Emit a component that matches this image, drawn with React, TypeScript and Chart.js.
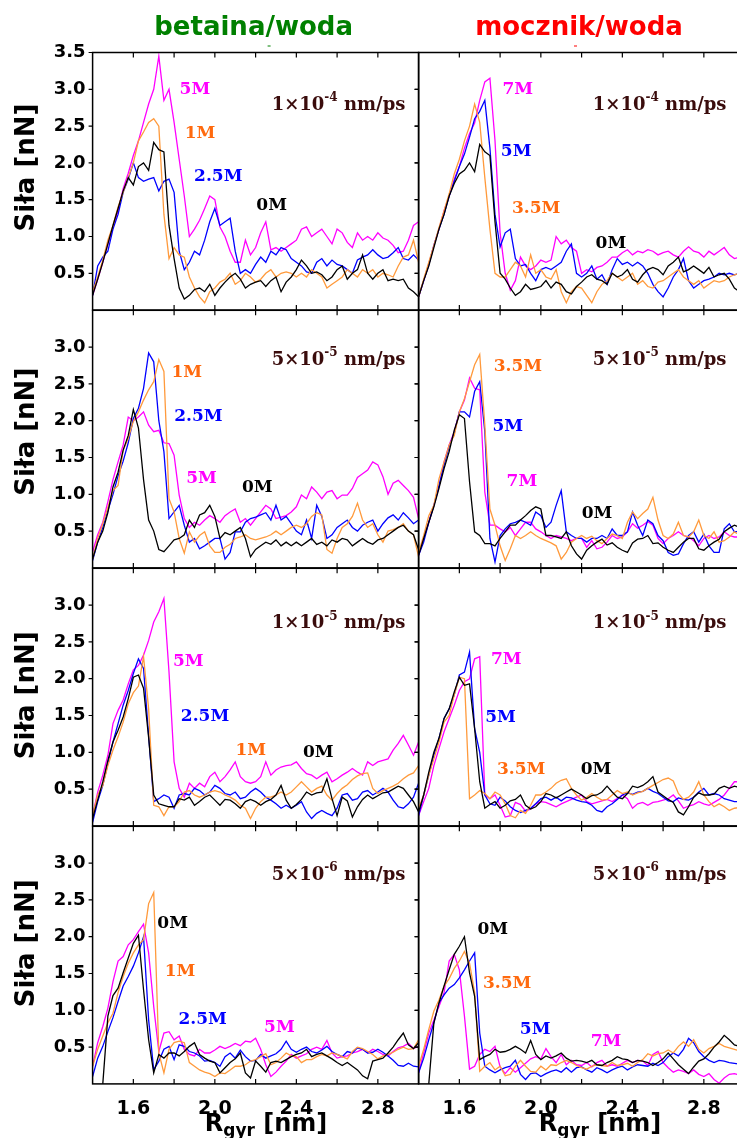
import React, { useEffect, useRef } from "react";
import { Chart, registerables } from "chart.js";

Chart.register(...registerables);

// ---------------- axis / category data ----------------
const R_GYR_START = 1.4;
const R_GYR_STEP = 0.025;
const R_GYR: number[] = Array.from({ length: 65 }, (_, i) => Math.round((R_GYR_START + i * R_GYR_STEP) * 1000) / 1000);
const X_TICK_LABELS = [1.6, 2.0, 2.4, 2.8];
const X_TICK_MARKS = [1.6, 1.8, 2.0, 2.2, 2.4, 2.6, 2.8];
const Y_TICKS_TOP = [0.5, 1.0, 1.5, 2.0, 2.5, 3.0, 3.5];
const Y_TICKS = [0.5, 1.0, 1.5, 2.0, 2.5, 3.0];
const COLUMN_TITLES = ["betaina/woda", "mocznik/woda"];
const SPEED_MANTISSA = ["1×10", "5×10", "1×10", "5×10"];
const SPEED_EXPONENT = ["-4", "-5", "-5", "-6"];
const SPEED_UNIT = " nm/ps";
const BETAINE_CONC = ["0M", "1M", "2.5M", "5M"];
const UREA_CONC = ["0M", "3.5M", "5M", "7M"];
const Y_TITLE = "Siła [nN]";
const X_TITLE_MAIN = "R";
const X_TITLE_SUB = "gyr";
const X_TITLE_UNIT = " [nm]";

// ---------------- series: betaina/woda, 1e-4 nm/ps ----------------
const B1_0M = [0.2, 0.42, 0.65, 0.9, 1.15, 1.38, 1.62, 1.8, 1.7, 1.95,
  2.0, 1.9, 2.28, 2.18, 2.15, 1.15, 0.7, 0.3, 0.15, 0.2,
  0.28, 0.3, 0.25, 0.35, 0.2, 0.3, 0.38, 0.45, 0.5, 0.42,
  0.3, 0.35, 0.38, 0.4, 0.32, 0.4, 0.45, 0.25, 0.38, 0.45,
  0.55, 0.68, 0.6, 0.5, 0.52, 0.48, 0.4, 0.45, 0.55, 0.6,
  0.42, 0.5, 0.55, 0.75, 0.5, 0.42, 0.5, 0.55, 0.4, 0.42,
  0.4, 0.42, 0.3, 0.25, 0.18];
const B1_1M = [0.25, 0.45, 0.68, 0.95, 1.15, 1.4, 1.6, 1.8, 2.0, 2.3,
  2.42, 2.55, 2.6, 2.5, 1.3, 0.7, 0.85, 0.75, 0.72, 0.45,
  0.3, 0.18, 0.1, 0.25, 0.3, 0.38, 0.42, 0.5, 0.35, 0.4,
  0.5, 0.45, 0.38, 0.42, 0.5, 0.55, 0.45, 0.5, 0.52, 0.5,
  0.45, 0.5, 0.45, 0.55, 0.5, 0.45, 0.3, 0.35, 0.4, 0.45,
  0.55, 0.5, 0.45, 0.55, 0.5, 0.55, 0.45, 0.5, 0.48, 0.45,
  0.6, 0.72, 0.75, 0.95, 0.65];
const B1_25M = [0.2, 0.6, 0.72, 0.8, 1.1, 1.3, 1.6, 1.78, 2.0, 1.8,
  1.75, 1.78, 1.8, 1.62, 1.75, 1.78, 1.6, 0.8, 0.55, 0.65,
  0.8, 0.75, 0.95, 1.2, 1.38, 1.15, 1.2, 1.25, 0.8, 0.5,
  0.55, 0.5, 0.62, 0.72, 0.65, 0.8, 0.75, 0.85, 0.82, 0.7,
  0.65, 0.6, 0.52, 0.5, 0.65, 0.7, 0.6, 0.68, 0.62, 0.6,
  0.55, 0.5, 0.68, 0.72, 0.75, 0.82, 0.75, 0.7, 0.72, 0.78,
  0.85, 0.7, 0.68, 0.75, 0.68];
const B1_5M = [0.2, 0.42, 0.65, 0.9, 1.12, 1.35, 1.65, 1.86, 2.1, 2.3,
  2.55, 2.8, 3.0, 3.45, 2.85, 3.0, 2.55, 2.05, 1.55, 1.0,
  1.1, 1.22, 1.38, 1.55, 1.5, 1.13, 1.0, 0.8, 0.65, 0.65,
  0.95, 0.75, 0.85, 1.05, 1.2, 0.82, 0.85, 0.8, 0.85, 0.9,
  0.95, 1.1, 1.13, 1.0, 1.05, 1.1, 1.0, 0.9, 1.1, 1.05,
  0.92, 0.85, 1.05, 0.95, 1.0, 0.95, 1.05, 0.98, 0.95, 0.88,
  0.78, 0.8, 0.95, 1.15, 1.2];

// ---------------- series: mocznik/woda, 1e-4 nm/ps ----------------
const U1_0M = [0.18, 0.4, 0.6, 0.85, 1.1, 1.3, 1.55, 1.72, 1.85, 1.9,
  2.0, 1.88, 2.25, 2.15, 2.1, 1.2, 0.5, 0.42, 0.3, 0.2,
  0.25, 0.35, 0.28, 0.3, 0.32, 0.4, 0.3, 0.38, 0.35, 0.25,
  0.22, 0.32, 0.38, 0.45, 0.48, 0.42, 0.4, 0.35, 0.5, 0.45,
  0.48, 0.55, 0.42, 0.38, 0.48, 0.55, 0.58, 0.55, 0.48, 0.6,
  0.65, 0.72, 0.52, 0.55, 0.6, 0.55, 0.5, 0.58, 0.45, 0.48,
  0.5, 0.42, 0.3, 0.25, 0.3];
const U1_35M = [0.18, 0.42, 0.65, 0.88, 1.12, 1.35, 1.58, 1.85, 2.05, 2.3,
  2.5, 2.8, 2.55, 1.8, 1.1, 0.5, 0.45, 0.45, 0.55, 0.65,
  0.6, 0.45, 0.75, 0.5, 0.55, 0.45, 0.42, 0.55, 0.25, 0.1,
  0.25, 0.32, 0.3, 0.2, 0.1, 0.25, 0.35, 0.4, 0.5, 0.45,
  0.4, 0.45, 0.5, 0.35, 0.4, 0.32, 0.3, 0.38, 0.4, 0.45,
  0.5, 0.55, 0.45, 0.4, 0.35, 0.4, 0.3, 0.35, 0.4, 0.38,
  0.4, 0.45, 0.48, 0.5, 0.5];
const U1_5M = [0.18, 0.4, 0.62, 0.88, 1.1, 1.3, 1.55, 1.75, 1.95, 2.12,
  2.35, 2.6, 2.7, 2.85, 2.2, 1.3, 0.86, 1.05, 1.1, 0.7,
  0.6, 0.62, 0.5, 0.4, 0.55, 0.58, 0.55, 0.6, 0.65, 0.8,
  0.9, 0.5, 0.45, 0.5, 0.6, 0.42, 0.48, 0.35, 0.55, 0.7,
  0.62, 0.65, 0.6, 0.65, 0.6, 0.5, 0.35, 0.25, 0.18, 0.3,
  0.45, 0.55, 0.7, 0.4, 0.3, 0.35, 0.4, 0.42, 0.45, 0.5,
  0.48, 0.5, 0.48, 0.5, 0.45];
const U1_7M = [0.18, 0.4, 0.62, 0.88, 1.1, 1.35, 1.55, 1.78, 1.95, 2.2,
  2.4, 2.54, 2.85, 3.1, 3.15, 2.3, 1.05, 0.5, 0.27, 0.4,
  0.72, 0.6, 0.55, 0.6, 0.68, 0.65, 0.68, 1.0, 0.9, 0.95,
  0.85, 0.8, 0.5, 0.55, 0.52, 0.58, 0.6, 0.65, 0.72, 0.72,
  0.78, 0.82, 0.75, 0.8, 0.78, 0.82, 0.8, 0.75, 0.78, 0.8,
  0.75, 0.72, 0.8, 0.86, 0.8, 0.78, 0.72, 0.8, 0.75, 0.8,
  0.85, 0.75, 0.7, 0.72, 0.7];

// ---------------- series: betaina/woda, 5e-5 nm/ps ----------------
const B2_0M = [0.12, 0.35, 0.5, 0.75, 1.1, 1.3, 1.6, 1.8, 2.15, 1.9,
  1.2, 0.65, 0.5, 0.25, 0.22, 0.3, 0.38, 0.4, 0.45, 0.65,
  0.55, 0.72, 0.75, 0.85, 0.7, 0.4, 0.48, 0.45, 0.5, 0.55,
  0.4, 0.15, 0.25, 0.3, 0.35, 0.32, 0.38, 0.3, 0.35, 0.3,
  0.35, 0.3, 0.35, 0.4, 0.32, 0.35, 0.3, 0.38, 0.35, 0.4,
  0.38, 0.3, 0.35, 0.4, 0.35, 0.32, 0.38, 0.4, 0.45, 0.5,
  0.55, 0.58, 0.5, 0.45, 0.25];
const B2_1M = [0.12, 0.4, 0.6, 0.82, 1.05, 1.12, 1.6, 1.76, 1.99, 2.12,
  2.28, 2.42, 2.53, 2.83, 2.67, 0.94, 0.76, 0.4, 0.2, 0.49,
  0.35, 0.44, 0.49, 0.3, 0.21, 0.21, 0.28, 0.32, 0.4, 0.42,
  0.45, 0.4, 0.38, 0.4, 0.42, 0.45, 0.5, 0.45, 0.5, 0.55,
  0.58, 0.55, 0.6, 0.7, 0.75, 0.72, 0.25, 0.2, 0.4, 0.55,
  0.6, 0.7, 0.88, 0.65, 0.55, 0.6, 0.45, 0.35, 0.5, 0.52,
  0.55, 0.6, 0.5, 0.45, 0.15];
const B2_25M = [0.1, 0.35, 0.55, 0.78, 1.0, 1.25, 1.45, 1.7, 2.03, 2.17,
  2.44, 2.92, 2.8, 2.0, 1.58, 0.67, 0.76, 0.85, 0.58, 0.35,
  0.4, 0.26, 0.3, 0.35, 0.4, 0.4, 0.12, 0.21, 0.49, 0.49,
  0.62, 0.67, 0.69, 0.72, 0.75, 0.65, 0.85, 0.65, 0.7, 0.6,
  0.5, 0.45, 0.65, 0.4, 0.85, 0.7, 0.4, 0.45, 0.55, 0.6,
  0.65, 0.55, 0.5, 0.58, 0.62, 0.65, 0.5, 0.6, 0.68, 0.72,
  0.65, 0.75, 0.68, 0.6, 0.65];
const B2_5M = [0.22, 0.45, 0.62, 0.9, 1.2, 1.44, 1.67, 2.05, 2.0, 2.05,
  2.12, 1.94, 1.85, 1.87, 1.7, 1.69, 1.53, 0.99, 0.67, 0.55,
  0.62, 0.58, 0.65, 0.71, 0.67, 0.62, 0.71, 0.76, 0.8, 0.62,
  0.67, 0.58, 0.67, 0.76, 0.85, 0.8, 0.67, 0.69, 0.71, 0.76,
  0.83, 0.99, 0.94, 1.1, 1.03, 0.94, 1.03, 1.05, 0.94, 0.99,
  0.99, 1.08, 1.23, 1.28, 1.33, 1.44, 1.4, 1.24, 1.0, 1.15,
  1.19, 1.12, 1.05, 0.96, 0.67];

// ---------------- series: mocznik/woda, 5e-5 nm/ps ----------------
const U2_0M = [0.17, 0.4, 0.62, 0.83, 1.08, 1.35, 1.58, 1.87, 2.08, 2.03,
  1.17, 0.49, 0.44, 0.33, 0.33, 0.3, 0.4, 0.49, 0.58, 0.58,
  0.65, 0.71, 0.78, 0.83, 0.8, 0.44, 0.44, 0.42, 0.4, 0.49,
  0.3, 0.19, 0.12, 0.24, 0.3, 0.35, 0.39, 0.31, 0.34, 0.28,
  0.24, 0.21, 0.34, 0.39, 0.4, 0.44, 0.33, 0.34, 0.28, 0.24,
  0.21, 0.28, 0.35, 0.4, 0.4, 0.26, 0.24, 0.3, 0.35, 0.39,
  0.49, 0.54, 0.58, 0.55, 0.55];
const U2_35M = [0.21, 0.44, 0.71, 0.85, 1.21, 1.44, 1.67, 1.8, 2.12, 2.3,
  2.53, 2.76, 2.9, 1.94, 0.8, 0.58, 0.3, 0.1, 0.26, 0.44,
  0.4, 0.44, 0.49, 0.44, 0.4, 0.37, 0.34, 0.3, 0.12, 0.21,
  0.35, 0.4, 0.44, 0.4, 0.43, 0.37, 0.33, 0.4, 0.46, 0.44,
  0.4, 0.62, 0.76, 0.67, 0.74, 0.8, 0.96, 0.65, 0.44, 0.4,
  0.46, 0.62, 0.44, 0.42, 0.49, 0.65, 0.44, 0.4, 0.49, 0.35,
  0.37, 0.42, 0.49, 0.45, 0.45];
const U2_5M = [0.17, 0.35, 0.62, 0.85, 1.12, 1.4, 1.65, 1.83, 2.12, 2.12,
  2.05, 2.4, 2.53, 1.85, 0.4, 0.08, 0.44, 0.53, 0.6, 0.62,
  0.65, 0.62, 0.58, 0.76, 0.71, 0.55, 0.62, 0.85, 1.05, 0.49,
  0.44, 0.4, 0.4, 0.35, 0.4, 0.4, 0.44, 0.4, 0.53, 0.44,
  0.44, 0.49, 0.76, 0.58, 0.44, 0.65, 0.6, 0.44, 0.37, 0.21,
  0.17, 0.19, 0.33, 0.44, 0.49, 0.35, 0.46, 0.3, 0.21, 0.21,
  0.53, 0.6, 0.49, 0.5, 0.5];
const U2_7M = [0.17, 0.4, 0.62, 0.85, 1.1, 1.44, 1.67, 1.85, 2.12, 2.28,
  2.58, 2.44, 2.42, 1.03, 0.58, 0.58, 0.53, 0.49, 0.55, 0.44,
  0.53, 0.62, 0.62, 0.53, 0.49, 0.44, 0.4, 0.44, 0.42, 0.4,
  0.37, 0.4, 0.4, 0.28, 0.37, 0.26, 0.28, 0.35, 0.44, 0.4,
  0.42, 0.49, 0.6, 0.54, 0.58, 0.63, 0.58, 0.4, 0.33, 0.4,
  0.44, 0.49, 0.44, 0.42, 0.37, 0.3, 0.4, 0.44, 0.4, 0.42,
  0.49, 0.44, 0.42, 0.42, 0.42];

// ---------------- series: betaina/woda, 1e-5 nm/ps ----------------
const B3_0M = [0.1, 0.35, 0.6, 0.89, 1.14, 1.3, 1.48, 1.73, 2.02, 2.05,
  1.87, 1.2, 0.42, 0.3, 0.28, 0.26, 0.26, 0.37, 0.35, 0.39,
  0.28, 0.33, 0.39, 0.42, 0.35, 0.28, 0.36, 0.35, 0.3, 0.24,
  0.33, 0.36, 0.33, 0.28, 0.33, 0.36, 0.42, 0.55, 0.35, 0.24,
  0.29, 0.36, 0.46, 0.42, 0.45, 0.46, 0.64, 0.37, 0.14, 0.39,
  0.34, 0.12, 0.26, 0.36, 0.42, 0.37, 0.41, 0.45, 0.46, 0.5,
  0.54, 0.51, 0.42, 0.33, 0.19];
const B3_1M = [0.14, 0.42, 0.55, 0.82, 1.03, 1.21, 1.41, 1.66, 1.81, 1.9,
  2.3, 1.59, 0.28, 0.26, 0.14, 0.26, 0.26, 0.33, 0.46, 0.48,
  0.42, 0.39, 0.42, 0.46, 0.48, 0.46, 0.42, 0.39, 0.35, 0.28,
  0.24, 0.1, 0.24, 0.33, 0.39, 0.39, 0.42, 0.46, 0.42, 0.46,
  0.53, 0.6, 0.53, 0.46, 0.51, 0.54, 0.42, 0.35, 0.44, 0.51,
  0.56, 0.63, 0.68, 0.71, 0.72, 0.51, 0.44, 0.48, 0.51, 0.54,
  0.58, 0.64, 0.69, 0.72, 0.82];
const B3_25M = [0.05, 0.33, 0.55, 0.85, 1.14, 1.39, 1.64, 1.84, 2.07, 2.27,
  2.14, 1.23, 0.33, 0.37, 0.42, 0.39, 0.24, 0.42, 0.44, 0.42,
  0.51, 0.48, 0.42, 0.46, 0.55, 0.51, 0.44, 0.42, 0.46, 0.37,
  0.39, 0.46, 0.51, 0.46, 0.39, 0.35, 0.3, 0.24, 0.28, 0.24,
  0.28, 0.33, 0.19, 0.1, 0.17, 0.21, 0.17, 0.14, 0.24, 0.42,
  0.44, 0.35, 0.37, 0.46, 0.48, 0.42, 0.46, 0.51, 0.46, 0.35,
  0.26, 0.24, 0.3, 0.39, 0.58];
const B3_5M = [0.14, 0.46, 0.69, 0.96, 1.39, 1.57, 1.71, 1.93, 2.12, 2.18,
  2.32, 2.52, 2.77, 2.91, 3.09, 2.09, 0.87, 0.51, 0.39, 0.58,
  0.51, 0.58, 0.53, 0.67, 0.73, 0.6, 0.67, 0.76, 0.87, 0.67,
  0.6, 0.58, 0.6, 0.67, 0.87, 0.69, 0.76, 0.8, 0.82, 0.83,
  0.87, 0.78, 0.71, 0.69, 0.64, 0.69, 0.73, 0.6, 0.64, 0.69,
  0.73, 0.78, 0.73, 0.69, 0.87, 0.82, 0.87, 0.89, 0.91, 1.03,
  1.12, 1.23, 1.1, 0.96, 1.14];

// ---------------- series: mocznik/woda, 1e-5 nm/ps ----------------
const U3_0M = [0.19, 0.42, 0.73, 1.0, 1.19, 1.46, 1.59, 1.82, 2.02, 1.91,
  1.93, 1.32, 0.6, 0.24, 0.29, 0.33, 0.24, 0.28, 0.34, 0.36,
  0.42, 0.28, 0.23, 0.26, 0.33, 0.44, 0.42, 0.38, 0.42, 0.46,
  0.5, 0.46, 0.42, 0.37, 0.41, 0.42, 0.46, 0.54, 0.46, 0.39,
  0.37, 0.44, 0.54, 0.52, 0.55, 0.6, 0.67, 0.46, 0.41, 0.36,
  0.32, 0.19, 0.15, 0.26, 0.39, 0.45, 0.42, 0.42, 0.43, 0.51,
  0.54, 0.51, 0.54, 0.52, 0.52];
const U3_35M = [0.24, 0.42, 0.69, 0.91, 1.14, 1.41, 1.5, 1.78, 2.02, 2.0,
  0.37, 0.42, 0.48, 0.44, 0.37, 0.46, 0.42, 0.3, 0.14, 0.11,
  0.21, 0.17, 0.28, 0.42, 0.42, 0.46, 0.51, 0.58, 0.62, 0.64,
  0.51, 0.42, 0.35, 0.39, 0.44, 0.39, 0.35, 0.36, 0.42, 0.48,
  0.44, 0.46, 0.42, 0.45, 0.47, 0.51, 0.55, 0.59, 0.63, 0.65,
  0.61, 0.44, 0.36, 0.39, 0.46, 0.6, 0.42, 0.33, 0.26, 0.3,
  0.26, 0.21, 0.24, 0.25, 0.25];
const U3_5M = [0.14, 0.42, 0.69, 0.96, 1.19, 1.46, 1.59, 1.78, 2.05, 2.09,
  2.36, 1.32, 1.0, 0.42, 0.3, 0.28, 0.39, 0.34, 0.26, 0.21,
  0.18, 0.21, 0.24, 0.3, 0.37, 0.39, 0.35, 0.39, 0.34, 0.39,
  0.38, 0.35, 0.33, 0.32, 0.28, 0.21, 0.19, 0.26, 0.3, 0.36,
  0.42, 0.45, 0.43, 0.46, 0.47, 0.51, 0.47, 0.44, 0.39, 0.34,
  0.33, 0.38, 0.36, 0.35, 0.39, 0.46, 0.51, 0.42, 0.44, 0.42,
  0.37, 0.35, 0.33, 0.33, 0.33];
const U3_7M = [0.14, 0.33, 0.51, 0.82, 1.05, 1.28, 1.46, 1.64, 1.84, 1.96,
  2.0, 2.27, 2.3, 0.42, 0.37, 0.42, 0.28, 0.12, 0.14, 0.32,
  0.29, 0.2, 0.23, 0.3, 0.33, 0.32, 0.29, 0.26, 0.3, 0.33,
  0.36, 0.39, 0.42, 0.33, 0.3, 0.32, 0.34, 0.36, 0.33, 0.37,
  0.42, 0.37, 0.24, 0.3, 0.32, 0.28, 0.32, 0.33, 0.35, 0.37,
  0.42, 0.34, 0.24, 0.27, 0.29, 0.33, 0.3, 0.28, 0.32, 0.36,
  0.42, 0.51, 0.6, 0.6, 0.6];

// ---------------- series: betaina/woda, 5e-6 nm/ps ----------------
const B4_0M = [null, null, 0.0, 0.92, 1.2, 1.3, 1.51, 1.71, 1.91, 2.02,
  1.28, 0.6, 0.15, 0.4, 0.35, 0.42, 0.42, 0.38, 0.44, 0.51,
  0.56, 0.4, 0.35, 0.31, 0.29, 0.15, 0.22, 0.29, 0.34, 0.42,
  0.15, 0.08, 0.31, 0.24, 0.16, 0.29, 0.31, 0.29, 0.33, 0.37,
  0.4, 0.42, 0.47, 0.37, 0.4, 0.42, 0.38, 0.34, 0.29, 0.25,
  0.29, 0.24, 0.19, 0.11, 0.07, 0.31, 0.33, 0.35, 0.42, 0.5,
  0.6, 0.69, 0.53, 0.48, 0.56];
const B4_1M = [0.24, 0.47, 0.65, 0.83, 0.96, 1.24, 1.46, 1.64, 1.78, 1.89,
  1.96, 2.45, 2.6, 0.42, 0.15, 0.47, 0.56, 0.58, 0.56, 0.29,
  0.24, 0.19, 0.16, 0.14, 0.1, 0.15, 0.14, 0.19, 0.24, 0.24,
  0.26, 0.31, 0.33, 0.37, 0.41, 0.26, 0.29, 0.35, 0.42, 0.38,
  0.37, 0.29, 0.33, 0.33, 0.37, 0.4, 0.38, 0.42, 0.4, 0.37,
  0.34, 0.44, 0.5, 0.48, 0.44, 0.4, 0.34, 0.38, 0.4, 0.43,
  0.47, 0.5, 0.47, 0.48, 0.6];
const B4_25M = [0.1, 0.35, 0.51, 0.71, 0.9, 1.12, 1.33, 1.46, 1.6, 1.78,
  2.0, 0.87, 0.19, 0.31, 0.47, 0.51, 0.33, 0.53, 0.51, 0.44,
  0.42, 0.38, 0.31, 0.32, 0.29, 0.24, 0.37, 0.42, 0.35, 0.46,
  0.37, 0.31, 0.32, 0.4, 0.35, 0.38, 0.41, 0.47, 0.58, 0.47,
  0.43, 0.47, 0.5, 0.44, 0.42, 0.46, 0.51, 0.44, 0.4, 0.37,
  0.44, 0.42, 0.49, 0.47, 0.42, 0.43, 0.47, 0.43, 0.38, 0.32,
  0.25, 0.24, 0.28, 0.24, 0.23];
const B4_5M = [0.24, 0.56, 0.78, 1.03, 1.39, 1.67, 1.73, 1.89, 1.96, 2.07,
  2.17, 1.78, 1.05, 0.44, 0.69, 0.71, 0.6, 0.65, 0.47, 0.4,
  0.38, 0.47, 0.42, 0.42, 0.46, 0.51, 0.48, 0.51, 0.55, 0.52,
  0.58, 0.57, 0.62, 0.47, 0.26, 0.1, 0.16, 0.24, 0.31, 0.4,
  0.35, 0.38, 0.41, 0.47, 0.5, 0.47, 0.59, 0.42, 0.35, 0.37,
  0.38, 0.42, 0.44, 0.47, 0.42, 0.47, 0.44, 0.4, 0.38, 0.44,
  0.49, 0.51, 0.55, 0.48, 0.51];

// ---------------- series: mocznik/woda, 5e-6 nm/ps ----------------
const U4_0M = [null, null, 0.0, 0.83, 1.1, 1.33, 1.55, 1.76, 1.87, 2.0,
  1.51, 1.19, 0.33, 0.37, 0.4, 0.47, 0.43, 0.44, 0.47, 0.51,
  0.47, 0.42, 0.59, 0.4, 0.33, 0.38, 0.35, 0.38, 0.42, 0.35,
  0.31, 0.32, 0.31, 0.29, 0.32, 0.26, 0.25, 0.29, 0.32, 0.37,
  0.34, 0.33, 0.29, 0.32, 0.31, 0.29, 0.25, 0.29, 0.34, 0.42,
  0.34, 0.26, 0.2, 0.14, 0.23, 0.31, 0.34, 0.41, 0.5, 0.57,
  0.66, 0.6, 0.53, 0.51, 0.51];
const U4_35M = [0.24, 0.47, 0.74, 0.99, 1.14, 1.33, 1.43, 1.57, 1.67, 1.8,
  1.64, 1.24, 0.17, 0.24, 0.29, 0.19, 0.24, 0.11, 0.13, 0.24,
  0.32, 0.24, 0.17, 0.16, 0.24, 0.19, 0.26, 0.25, 0.29, 0.32,
  0.29, 0.25, 0.22, 0.2, 0.24, 0.26, 0.25, 0.24, 0.29, 0.25,
  0.26, 0.28, 0.24, 0.29, 0.33, 0.41, 0.38, 0.41, 0.42, 0.46,
  0.42, 0.51, 0.57, 0.51, 0.6, 0.47, 0.42, 0.48, 0.51, 0.55,
  0.51, 0.49, 0.47, 0.45, 0.45];
const U4_5M = [0.15, 0.35, 0.6, 0.83, 1.1, 1.21, 1.3, 1.35, 1.44, 1.55,
  1.67, 1.78, 0.69, 0.24, 0.19, 0.15, 0.19, 0.22, 0.24, 0.32,
  0.13, 0.06, 0.14, 0.15, 0.1, 0.14, 0.17, 0.19, 0.16, 0.22,
  0.16, 0.22, 0.23, 0.19, 0.16, 0.22, 0.19, 0.15, 0.19, 0.22,
  0.24, 0.19, 0.23, 0.26, 0.25, 0.24, 0.28, 0.25, 0.29, 0.37,
  0.42, 0.38, 0.47, 0.62, 0.56, 0.44, 0.37, 0.32, 0.29, 0.32,
  0.31, 0.29, 0.28, 0.27, 0.27];
const U4_7M = [0.15, 0.42, 0.69, 0.87, 1.05, 1.24, 1.67, 1.76, 1.55, 0.92,
  0.2, 0.24, 0.4, 0.47, 0.44, 0.51, 0.23, 0.14, 0.22, 0.16,
  0.22, 0.28, 0.34, 0.37, 0.34, 0.48, 0.37, 0.29, 0.4, 0.26,
  0.32, 0.26, 0.25, 0.29, 0.23, 0.29, 0.32, 0.24, 0.26, 0.24,
  0.28, 0.32, 0.29, 0.32, 0.31, 0.25, 0.4, 0.44, 0.29, 0.22,
  0.16, 0.19, 0.17, 0.14, 0.19, 0.13, 0.1, 0.14, 0.06, 0.01,
  0.08, 0.13, 0.14, 0.12, 0.12];

// ---------------- annotation anchors (data coordinates) ----------------
const LABEL_POS = [
  [[2.279, 1.42], [1.927, 2.4], [2.017, 1.81], [1.902, 2.99]],
  [[2.344, 0.91], [1.977, 1.38], [1.879, 2.15], [1.887, 2.99]],
  [[2.208, 1.09], [1.862, 2.65], [1.919, 2.05], [1.935, 1.21]],
  [[2.276, 0.74], [1.887, 2.74], [1.838, 1.92], [1.907, 1.17]],
  [[2.508, 1.0], [2.176, 1.03], [1.952, 1.48], [1.87, 2.23]],
  [[2.271, 0.76], [1.903, 0.76], [1.802, 1.47], [1.83, 2.26]],
  [[1.793, 2.18], [1.829, 1.52], [1.94, 0.87], [2.317, 0.76]],
  [[1.764, 2.1], [1.835, 1.36], [1.972, 0.74], [2.32, 0.58]],
];
const SPEED_POS = [
  [2.607, 2.787], [2.583, 2.787], [2.607, 2.826], [2.583, 2.826],
  [2.607, 2.75], [2.583, 2.75], [2.607, 2.84], [2.583, 2.84],
];

const PANELS = [
  { row: 0, col: 0, series: [B1_0M, B1_1M, B1_25M, B1_5M] },
  { row: 0, col: 1, series: [U1_0M, U1_35M, U1_5M, U1_7M] },
  { row: 1, col: 0, series: [B2_0M, B2_1M, B2_25M, B2_5M] },
  { row: 1, col: 1, series: [U2_0M, U2_35M, U2_5M, U2_7M] },
  { row: 2, col: 0, series: [B3_0M, B3_1M, B3_25M, B3_5M] },
  { row: 2, col: 1, series: [U3_0M, U3_35M, U3_5M, U3_7M] },
  { row: 3, col: 0, series: [B4_0M, B4_1M, B4_25M, B4_5M] },
  { row: 3, col: 1, series: [U4_0M, U4_35M, U4_5M, U4_7M] },
];

// ---------------- layout & style ----------------
const CANVAS_W = 750;
const CANVAS_H = 1138;
const COL_X = [[92.6, 418.6], [418.6, 744.6]];
const ROW_TOP = [52.5, 310.3, 568.3, 826.3];
const ROW_H = 257.6;
const Y_AXIS_W = 80;
const X_AXIS_H = 50;
const LINE_COLORS = ["#000000", "#ff9a3c", "#0000ff", "#ff00ff"];
const TEXT_COLORS = ["#000000", "#ff6a0e", "#0000ff", "#ff00ff"];
const SPEED_COLOR = "#3a0c0c";
const TITLE_COLORS = ["#008000", "#ff0000"];
const TITLE_X = [253.6, 579];
const TITLE_Y = 28;
const Y_TITLE_CENTERS = [167.5, 431.7, 695.3, 943.3];
const X_TITLE_CX = [266, 600];
const X_TITLE_BASE = 1131;
const SANS = '"DejaVu Sans", sans-serif';
const SERIF = '"DejaVu Serif", serif';

function decorPlugin(p: any, idx: number) {
  return {
    id: "decor" + idx,
    afterDraw(chart: any) {
      const ctx = chart.ctx;
      const a = chart.chartArea;
      const xs = chart.scales.x;
      const ys = chart.scales.y;
      ctx.save();
      // tick marks
      ctx.strokeStyle = "#000";
      ctx.lineWidth = 1.2;
      ctx.beginPath();
      X_TICK_MARKS.forEach((v) => {
        const px = xs.getPixelForValue(v);
        ctx.moveTo(px, a.bottom);
        ctx.lineTo(px, a.bottom - 5);
        ctx.moveTo(px, a.top);
        ctx.lineTo(px, a.top + 5);
      });
      (p.row === 0 ? Y_TICKS_TOP : Y_TICKS).forEach((v) => {
        const py = ys.getPixelForValue(v);
        ctx.moveTo(a.left - 4, py);
        ctx.lineTo(a.left, py);
        ctx.moveTo(a.right - 4, py);
        ctx.lineTo(a.right, py);
      });
      ctx.stroke();
      // frame
      ctx.lineWidth = 1.5;
      ctx.strokeRect(a.left, a.top, a.right - a.left, a.bottom - a.top);

      // speed label
      const sp = SPEED_POS[idx];
      const scx = xs.getPixelForValue(sp[0]);
      const scy = ys.getPixelForValue(sp[1]);
      const mant = SPEED_MANTISSA[p.row];
      const expo = SPEED_EXPONENT[p.row];
      ctx.textBaseline = "middle";
      ctx.textAlign = "left";
      ctx.font = "bold 18px " + SERIF;
      const w1 = ctx.measureText(mant).width;
      const w3 = ctx.measureText(SPEED_UNIT).width;
      ctx.font = "bold 12px " + SERIF;
      const w2 = ctx.measureText(expo).width;
      let sx = scx - (w1 + w2 + w3) / 2;
      ctx.fillStyle = SPEED_COLOR;
      ctx.font = "bold 18px " + SERIF;
      ctx.fillText(mant, sx, scy);
      sx += w1;
      ctx.font = "bold 12px " + SERIF;
      ctx.fillText(expo, sx, scy - 7);
      sx += w2;
      ctx.font = "bold 18px " + SERIF;
      ctx.fillText(SPEED_UNIT, sx, scy);

      // series labels
      const names = p.col === 0 ? BETAINE_CONC : UREA_CONC;
      ctx.textAlign = "center";
      ctx.font = "bold 17px " + SERIF;
      LABEL_POS[idx].forEach((pos: number[], i: number) => {
        ctx.fillStyle = TEXT_COLORS[i];
        ctx.fillText(names[i], xs.getPixelForValue(pos[0]), ys.getPixelForValue(pos[1]));
      });

      // y axis title
      if (p.col === 0) {
        ctx.save();
        ctx.translate(27, Y_TITLE_CENTERS[p.row]);
        ctx.rotate(-Math.PI / 2);
        ctx.fillStyle = "#000";
        ctx.font = "bold 26px " + SANS;
        ctx.textAlign = "center";
        ctx.textBaseline = "middle";
        ctx.fillText(Y_TITLE, 0, 0);
        ctx.restore();
      }
      // column title
      if (p.row === 0) {
        ctx.fillStyle = TITLE_COLORS[p.col];
        ctx.font = "bold 26px " + SANS;
        ctx.textAlign = "center";
        ctx.textBaseline = "middle";
        ctx.fillText(COLUMN_TITLES[p.col], TITLE_X[p.col], TITLE_Y);
        ctx.fillRect(TITLE_X[p.col] + (p.col === 0 ? 14 : -5), 45.5, 3, 1);
      }
      // x axis title
      if (p.row === 3) {
        ctx.fillStyle = "#000";
        ctx.textAlign = "left";
        ctx.textBaseline = "alphabetic";
        ctx.font = "bold 24px " + SANS;
        const wr = ctx.measureText(X_TITLE_MAIN).width;
        const wu = ctx.measureText(X_TITLE_UNIT).width;
        ctx.font = "bold 17px " + SANS;
        const ws = ctx.measureText(X_TITLE_SUB).width;
        let tx = X_TITLE_CX[p.col] - (wr + ws + wu) / 2;
        ctx.font = "bold 24px " + SANS;
        ctx.fillText(X_TITLE_MAIN, tx, X_TITLE_BASE);
        tx += wr;
        ctx.font = "bold 17px " + SANS;
        ctx.fillText(X_TITLE_SUB, tx, X_TITLE_BASE + 5);
        tx += ws;
        ctx.font = "bold 24px " + SANS;
        ctx.fillText(X_TITLE_UNIT, tx, X_TITLE_BASE);
      }
      ctx.restore();
    },
  };
}

function makeConfig(p: any, idx: number): any {
  const left = COL_X[p.col][0];
  const right = COL_X[p.col][1];
  const top = ROW_TOP[p.row];
  const bottom = top + ROW_H;
  return {
    type: "line",
    data: {
      datasets: p.series.map((vals: (number | null)[], i: number) => ({
        data: vals.map((v, k) => ({ x: R_GYR[k], y: v })),
        borderColor: LINE_COLORS[i],
        borderWidth: 1.3,
        pointRadius: 0,
        tension: 0,
        fill: false,
        spanGaps: false,
      })),
    },
    options: {
      responsive: false,
      animation: false,
      devicePixelRatio: 1,
      events: [],
      layout: {
        padding: {
          left: left - Y_AXIS_W,
          right: CANVAS_W - right,
          top: top,
          bottom: CANVAS_H - bottom - X_AXIS_H,
        },
      },
      plugins: { legend: { display: false }, tooltip: { enabled: false }, title: { display: false } },
      scales: {
        x: {
          type: "linear",
          min: 1.4,
          max: 3.0,
          afterBuildTicks: (s: any) => {
            s.ticks = X_TICK_LABELS.map((v) => ({ value: v }));
          },
          afterFit: (s: any) => {
            s.height = X_AXIS_H;
          },
          ticks: {
            display: p.row === 3,
            autoSkip: false,
            maxRotation: 0,
            padding: 14,
            color: "#000",
            font: { family: SANS, weight: "bold", size: 19 },
            callback: (v: any) => Number(v).toFixed(1),
          },
          grid: { display: false, drawTicks: false },
          border: { display: false },
        },
        y: {
          type: "linear",
          min: 0,
          max: 3.5,
          afterBuildTicks: (s: any) => {
            s.ticks = (p.row === 0 ? Y_TICKS_TOP : Y_TICKS).map((v) => ({ value: v }));
          },
          afterFit: (s: any) => {
            s.width = Y_AXIS_W;
          },
          ticks: {
            display: p.col === 0,
            autoSkip: false,
            padding: 7,
            color: "#000",
            font: { family: SANS, weight: "bold", size: 18 },
            callback: (v: any) => Number(v).toFixed(1),
          },
          grid: { display: false, drawTicks: false },
          border: { display: false },
        },
      },
    },
    plugins: [decorPlugin(p, idx)],
  };
}

export default function App() {
  const refs = useRef<(HTMLCanvasElement | null)[]>([]);
  useEffect(() => {
    const charts = PANELS.map((p, i) => new Chart(refs.current[i] as HTMLCanvasElement, makeConfig(p, i)));
    return () => {
      charts.forEach((c) => c.destroy());
    };
  }, []);
  return (
    <div
      style={{
        position: "fixed",
        left: 0,
        top: 0,
        width: 737,
        height: 1138,
        overflow: "hidden",
        background: "#ffffff",
      }}
    >
      {PANELS.map((p, i) => (
        <canvas
          key={i}
          ref={(el) => {
            refs.current[i] = el;
          }}
          width={CANVAS_W}
          height={CANVAS_H}
          style={{ position: "absolute", left: 0, top: 0, width: CANVAS_W, height: CANVAS_H }}
        />
      ))}
    </div>
  );
}
